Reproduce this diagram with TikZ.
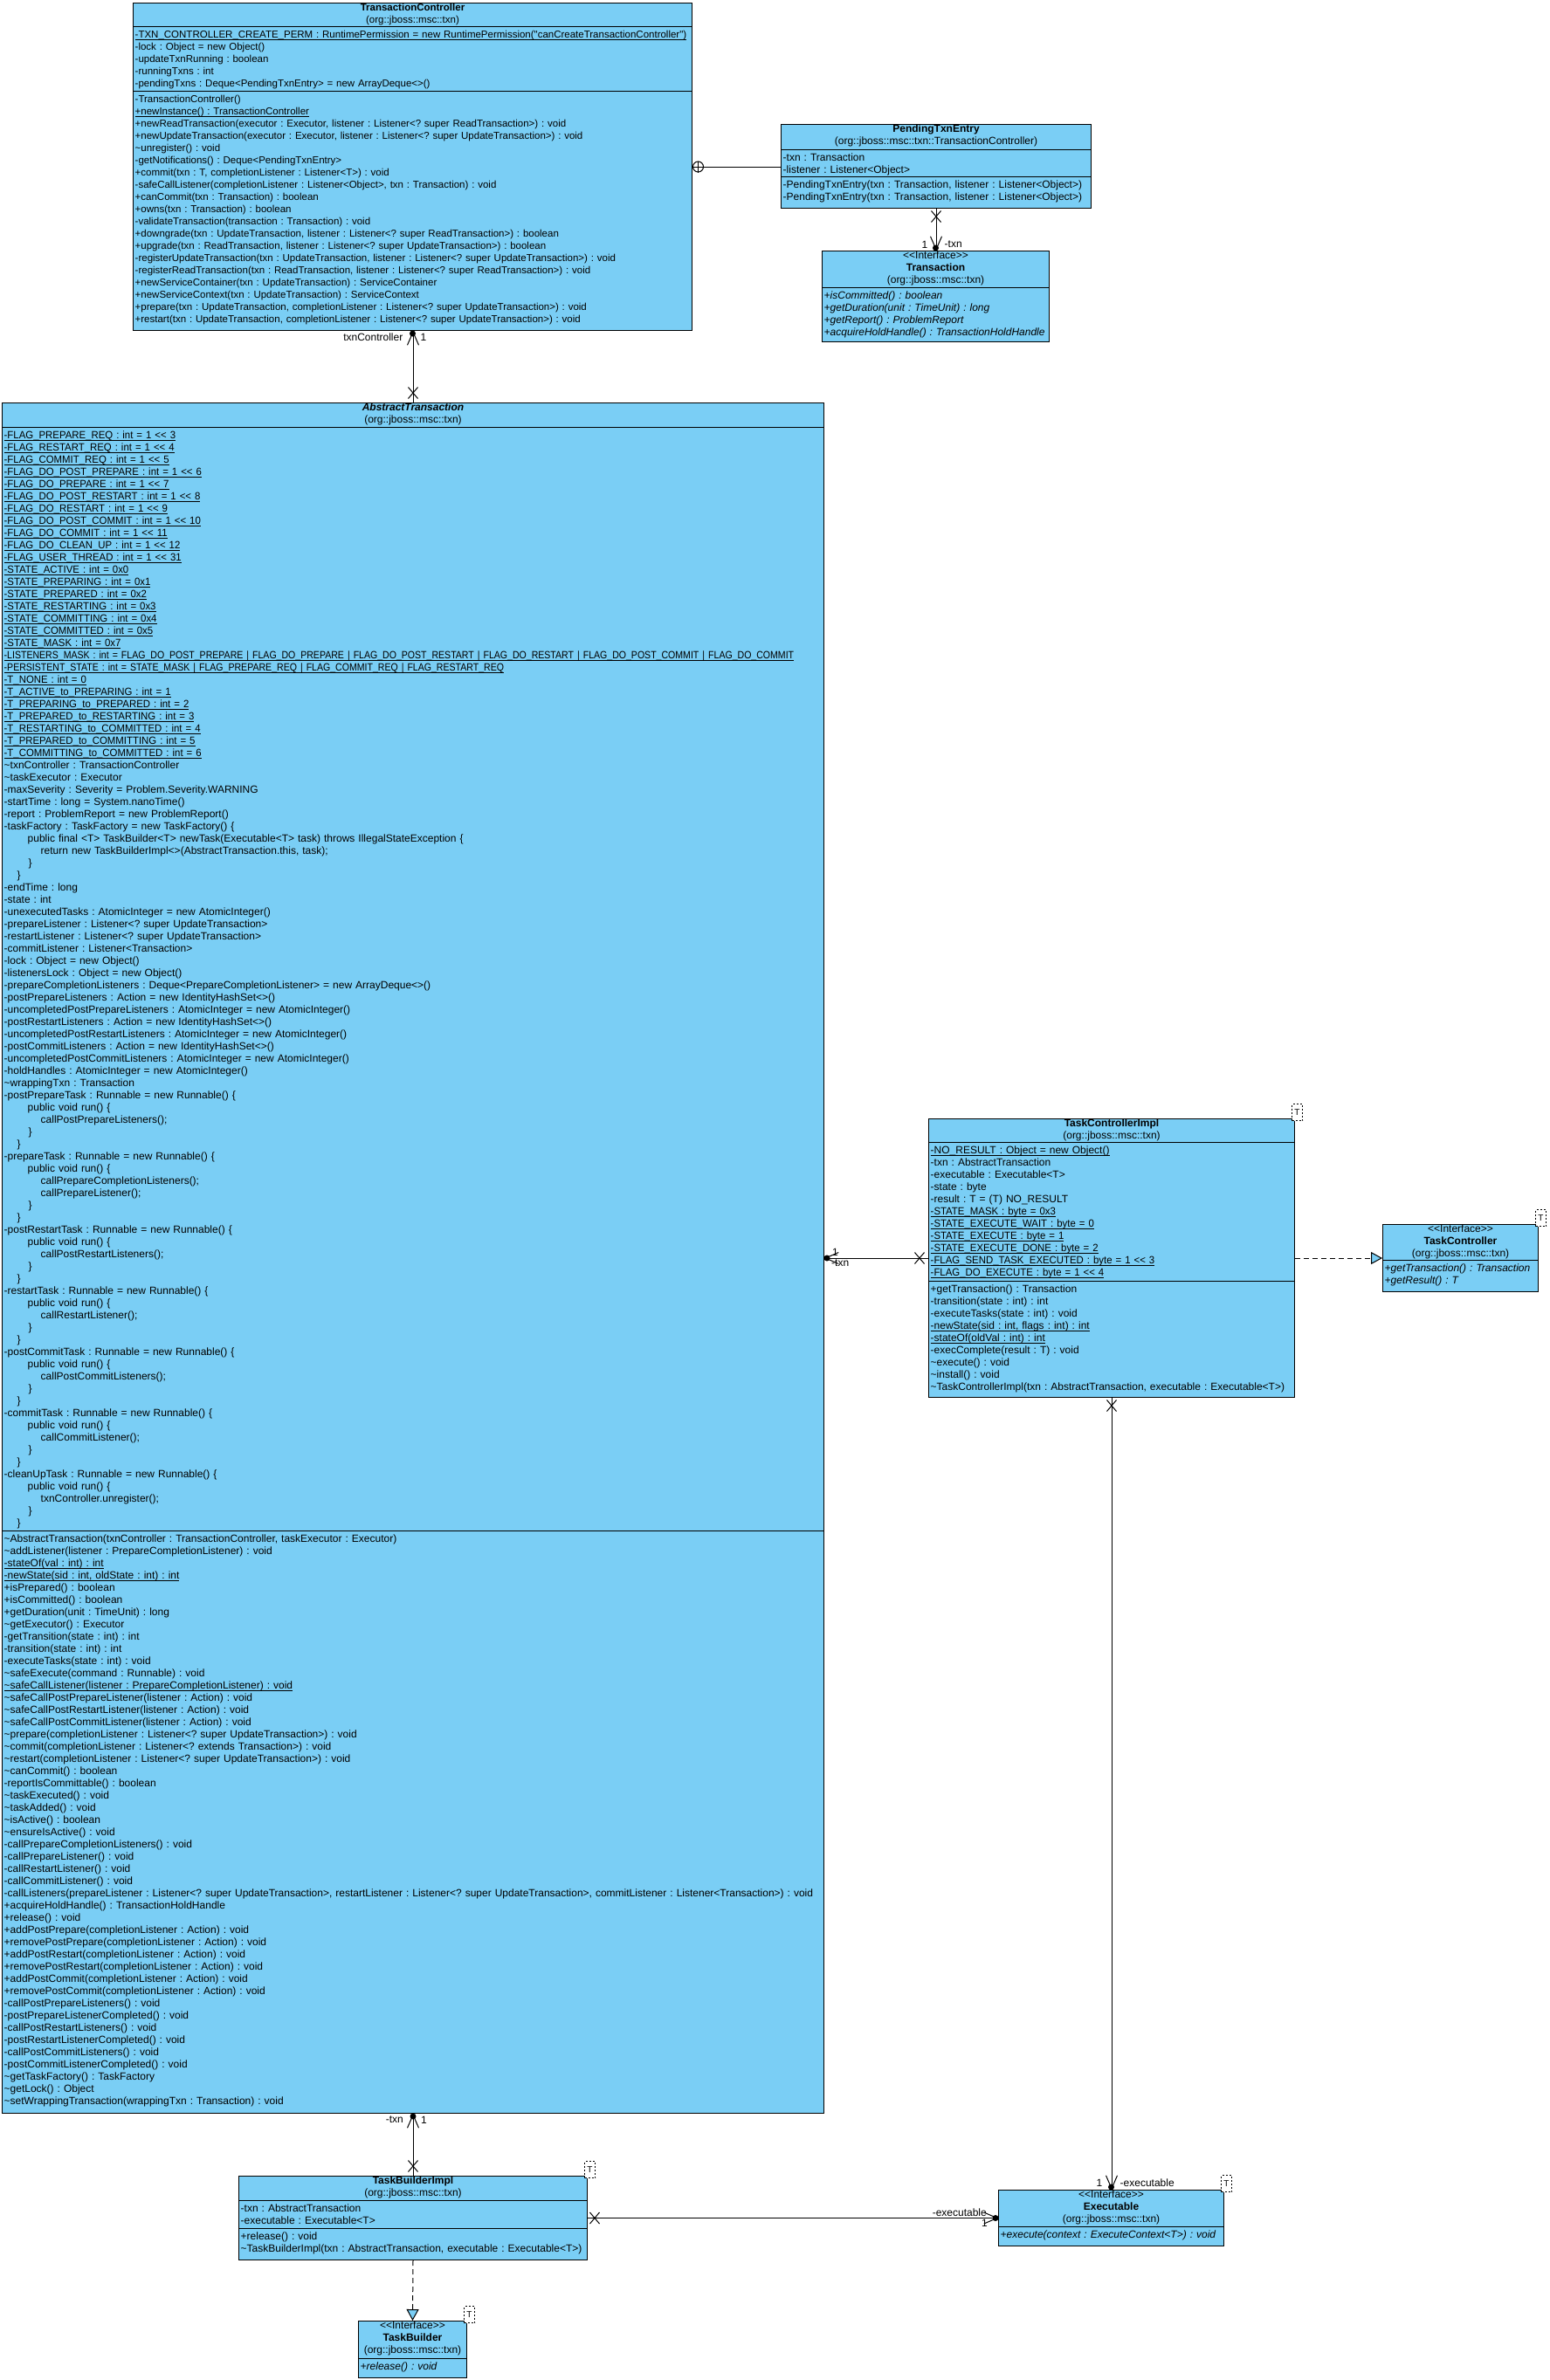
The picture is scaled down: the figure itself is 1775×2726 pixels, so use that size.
\documentclass[tikz,border=0pt]{standalone}
\usepackage{fontspec}
\setmainfont{Liberation Sans}[Ligatures=TeXOff]
\newfontfamily\nar{Liberation Sans}[FakeStretch=0.95,Ligatures=TeXOff]
\newfontfamily\narr{Liberation Sans}[FakeStretch=0.88,Ligatures=TeXOff]
\usetikzlibrary{arrows.meta,shapes.misc,calc}
\definecolor{umlblue}{RGB}{122,206,245}
\newsavebox\ulbox
\newcommand\uln[1]{\leavevmode\sbox\ulbox{#1}\rlap{\rule[-2.2pt]{\wd\ulbox}{0.8pt}}\usebox\ulbox}
\newcommand\capl[1]{\leavevmode{\nar\uln{#1}}}
\newcommand\caplw[1]{\leavevmode{\narr\uln{#1}}}
\newcommand\tld{\textasciitilde}
\newcommand\ind[1]{\leavevmode\hspace*{#1pt}}
\newcommand\fA{\fontsize{12}{14}\selectfont}
\newcommand\fB{\fontsize{11.5}{14}\selectfont}
\tikzset{
  clsbox/.style={draw, fill=umlblue, line width=1pt, inner sep=0pt, rectangle, anchor=north west},
  sepline/.style={line width=1pt},
  headtxt/.style={anchor=north, align=center, inner xsep=0pt, inner ysep=0.9pt, font=\fA, execute at begin node=\strut},
  comptxt/.style={anchor=north west, text width=1300pt, align=left, inner xsep=2.5pt, inner ysep=3.2pt, font=\fA, execute at begin node={\noindent\strut}},
  assoc/.style={line width=1pt, -{Straight Barb[length=15pt,width=13pt,line width=1pt]}},
  xmark/.style={draw, cross out, line width=1pt, minimum width=10pt, minimum height=12pt, inner sep=0pt},
  ownerdot/.style={circle, fill=black, inner sep=0pt, minimum size=7pt},
  realize/.style={line width=1pt, dash pattern=on 6pt off 4pt, -{Triangle[length=13pt,width=14pt,fill=umlblue,line width=1pt]}},
  tparam/.style={draw, dash pattern=on 2pt off 2pt, fill=white, minimum width=12pt, minimum height=19pt, inner sep=0pt, line width=0.8pt, font=\fontsize{10}{12}\selectfont},
  nestc/.style={draw, circle, fill=white, line width=1pt, minimum size=12pt, inner sep=0pt, anchor=west},
  lbl/.style={inner sep=0pt, font=\fA},
}
\begin{document}
\frenchspacing
\begin{tikzpicture}[x=1pt,y=-1pt]
\fill[white] (0,0) rectangle (1775,2726);
\useasboundingbox (0,0) rectangle (1775,2726);

% ---------------- TransactionController
\node[clsbox, minimum width=640pt, minimum height=375pt] (tc) at (152,3) {};
\draw[sepline] ([yshift=-27pt]tc.north west) -- ([yshift=-27pt]tc.north east);
\draw[sepline] ([yshift=-101pt]tc.north west) -- ([yshift=-101pt]tc.north east);
\node[headtxt, font=\fB] (tc-h) at (tc.north) {{\bfseries TransactionController}\\(org::jboss::msc::txn)};
\node[comptxt, font=\fB] (tc-a) at ([yshift=-27pt]tc.north west) {\uln{-TXN\_CONTROLLER\_CREATE\_PERM : RuntimePermission = new RuntimePermission("canCreateTransactionController")}\\
-lock : Object = new Object()\\
-updateTxnRunning : boolean\\
-runningTxns : int\\
-pendingTxns : Deque<PendingTxnEntry> = new ArrayDeque<>()};
\node[comptxt, font=\fB] (tc-m) at ([yshift=-101pt]tc.north west) {-TransactionController()\\
\uln{+newInstance() : TransactionController}\\
+newReadTransaction(executor : Executor, listener : Listener<? super ReadTransaction>) : void\\
+newUpdateTransaction(executor : Executor, listener : Listener<? super UpdateTransaction>) : void\\
\tld unregister() : void\\
-getNotifications() : Deque<PendingTxnEntry>\\
+commit(txn : T, completionListener : Listener<T>) : void\\
-safeCallListener(completionListener : Listener<Object>, txn : Transaction) : void\\
+canCommit(txn : Transaction) : boolean\\
+owns(txn : Transaction) : boolean\\
-validateTransaction(transaction : Transaction) : void\\
+downgrade(txn : UpdateTransaction, listener : Listener<? super ReadTransaction>) : boolean\\
+upgrade(txn : ReadTransaction, listener : Listener<? super UpdateTransaction>) : boolean\\
-registerUpdateTransaction(txn : UpdateTransaction, listener : Listener<? super UpdateTransaction>) : void\\
-registerReadTransaction(txn : ReadTransaction, listener : Listener<? super ReadTransaction>) : void\\
+newServiceContainer(txn : UpdateTransaction) : ServiceContainer\\
+newServiceContext(txn : UpdateTransaction) : ServiceContext\\
+prepare(txn : UpdateTransaction, completionListener : Listener<? super UpdateTransaction>) : void\\
+restart(txn : UpdateTransaction, completionListener : Listener<? super UpdateTransaction>) : void};

% ---------------- PendingTxnEntry
\node[clsbox, minimum width=355pt, minimum height=96pt] (pte) at (894,142) {};
\draw[sepline] ([yshift=-29pt]pte.north west) -- ([yshift=-29pt]pte.north east);
\draw[sepline] ([yshift=-60pt]pte.north west) -- ([yshift=-60pt]pte.north east);
\node[headtxt] (pte-h) at (pte.north) {{\bfseries PendingTxnEntry}\\(org::jboss::msc::txn::TransactionController)};
\node[comptxt] (pte-a) at ([yshift=-29pt]pte.north west) {-txn : Transaction\\-listener : Listener<Object>};
\node[comptxt] (pte-m) at ([yshift=-60pt]pte.north west) {-PendingTxnEntry(txn : Transaction, listener : Listener<Object>)\\-PendingTxnEntry(txn : Transaction, listener : Listener<Object>)};

% ---------------- Transaction
\node[clsbox, minimum width=260pt, minimum height=104pt] (tr) at (941,287) {};
\draw[sepline] ([yshift=-42pt]tr.north west) -- ([yshift=-42pt]tr.north east);
\node[headtxt] (tr-h) at (tr.north) {<<Interface>>\\{\bfseries Transaction}\\(org::jboss::msc::txn)};
\node[comptxt, font=\fA\itshape] (tr-m) at ([yshift=-42pt]tr.north west) {+isCommitted() : boolean\\
+getDuration(unit : TimeUnit) : long\\
+getReport() : ProblemReport\\
+acquireHoldHandle() : TransactionHoldHandle};

% ---------------- AbstractTransaction
\node[clsbox, minimum width=941pt, minimum height=1959pt] (abst) at (2,461) {};
\draw[sepline] ([yshift=-28pt]abst.north west) -- ([yshift=-28pt]abst.north east);
\draw[sepline] ([yshift=-1292pt]abst.north west) -- ([yshift=-1292pt]abst.north east);
\node[headtxt] (abst-h) at (abst.north) {{\bfseries\itshape AbstractTransaction}\\(org::jboss::msc::txn)};
\node[comptxt] (abst-a) at ([yshift=-28pt]abst.north west) {\capl{-FLAG\_PREPARE\_REQ : int = 1 << 3}\\
\capl{-FLAG\_RESTART\_REQ : int = 1 << 4}\\
\capl{-FLAG\_COMMIT\_REQ : int = 1 << 5}\\
\capl{-FLAG\_DO\_POST\_PREPARE : int = 1 << 6}\\
\capl{-FLAG\_DO\_PREPARE : int = 1 << 7}\\
\capl{-FLAG\_DO\_POST\_RESTART : int = 1 << 8}\\
\capl{-FLAG\_DO\_RESTART : int = 1 << 9}\\
\capl{-FLAG\_DO\_POST\_COMMIT : int = 1 << 10}\\
\capl{-FLAG\_DO\_COMMIT : int = 1 << 11}\\
\capl{-FLAG\_DO\_CLEAN\_UP : int = 1 << 12}\\
\capl{-FLAG\_USER\_THREAD : int = 1 << 31}\\
\capl{-STATE\_ACTIVE : int = 0x0}\\
\capl{-STATE\_PREPARING : int = 0x1}\\
\capl{-STATE\_PREPARED : int = 0x2}\\
\capl{-STATE\_RESTARTING : int = 0x3}\\
\capl{-STATE\_COMMITTING : int = 0x4}\\
\capl{-STATE\_COMMITTED : int = 0x5}\\
\capl{-STATE\_MASK : int = 0x7}\\
\caplw{-LISTENERS\_MASK : int = FLAG\_DO\_POST\_PREPARE | FLAG\_DO\_PREPARE | FLAG\_DO\_POST\_RESTART | FLAG\_DO\_RESTART | FLAG\_DO\_POST\_COMMIT | FLAG\_DO\_COMMIT}\\
\caplw{-PERSISTENT\_STATE : int = STATE\_MASK | FLAG\_PREPARE\_REQ | FLAG\_COMMIT\_REQ | FLAG\_RESTART\_REQ}\\
\capl{-T\_NONE : int = 0}\\
\capl{-T\_ACTIVE\_to\_PREPARING : int = 1}\\
\capl{-T\_PREPARING\_to\_PREPARED : int = 2}\\
\capl{-T\_PREPARED\_to\_RESTARTING : int = 3}\\
\capl{-T\_RESTARTING\_to\_COMMITTED : int = 4}\\
\capl{-T\_PREPARED\_to\_COMMITTING : int = 5}\\
\capl{-T\_COMMITTING\_to\_COMMITTED : int = 6}\\
\tld txnController : TransactionController\\
\tld taskExecutor : Executor\\
-maxSeverity : Severity = Problem.Severity.WARNING\\
-startTime : long = System.nanoTime()\\
-report : ProblemReport = new ProblemReport()\\
-taskFactory : TaskFactory = new TaskFactory() \{\\
\ind{27}public final <T> TaskBuilder<T> newTask(Executable<T> task) throws IllegalStateException \{\\
\ind{42}return new TaskBuilderImpl<>(AbstractTransaction.this, task);\\
\ind{28}\}\\
\ind{15}\}\\
-endTime : long\\
-state : int\\
-unexecutedTasks : AtomicInteger = new AtomicInteger()\\
-prepareListener : Listener<? super UpdateTransaction>\\
-restartListener : Listener<? super UpdateTransaction>\\
-commitListener : Listener<Transaction>\\
-lock : Object = new Object()\\
-listenersLock : Object = new Object()\\
-prepareCompletionListeners : Deque<PrepareCompletionListener> = new ArrayDeque<>()\\
-postPrepareListeners : Action = new IdentityHashSet<>()\\
-uncompletedPostPrepareListeners : AtomicInteger = new AtomicInteger()\\
-postRestartListeners : Action = new IdentityHashSet<>()\\
-uncompletedPostRestartListeners : AtomicInteger = new AtomicInteger()\\
-postCommitListeners : Action = new IdentityHashSet<>()\\
-uncompletedPostCommitListeners : AtomicInteger = new AtomicInteger()\\
-holdHandles : AtomicInteger = new AtomicInteger()\\
\tld wrappingTxn : Transaction\\
-postPrepareTask : Runnable = new Runnable() \{\\
\ind{27}public void run() \{\\
\ind{42}callPostPrepareListeners();\\
\ind{28}\}\\
\ind{15}\}\\
-prepareTask : Runnable = new Runnable() \{\\
\ind{27}public void run() \{\\
\ind{42}callPrepareCompletionListeners();\\
\ind{42}callPrepareListener();\\
\ind{28}\}\\
\ind{15}\}\\
-postRestartTask : Runnable = new Runnable() \{\\
\ind{27}public void run() \{\\
\ind{42}callPostRestartListeners();\\
\ind{28}\}\\
\ind{15}\}\\
-restartTask : Runnable = new Runnable() \{\\
\ind{27}public void run() \{\\
\ind{42}callRestartListener();\\
\ind{28}\}\\
\ind{15}\}\\
-postCommitTask : Runnable = new Runnable() \{\\
\ind{27}public void run() \{\\
\ind{42}callPostCommitListeners();\\
\ind{28}\}\\
\ind{15}\}\\
-commitTask : Runnable = new Runnable() \{\\
\ind{27}public void run() \{\\
\ind{42}callCommitListener();\\
\ind{28}\}\\
\ind{15}\}\\
-cleanUpTask : Runnable = new Runnable() \{\\
\ind{27}public void run() \{\\
\ind{42}txnController.unregister();\\
\ind{28}\}\\
\ind{15}\}};
\node[comptxt] (abst-m) at ([yshift=-1292pt]abst.north west) {\tld AbstractTransaction(txnController : TransactionController, taskExecutor : Executor)\\
\tld addListener(listener : PrepareCompletionListener) : void\\
\uln{-stateOf(val : int) : int}\\
\uln{-newState(sid : int, oldState : int) : int}\\
+isPrepared() : boolean\\
+isCommitted() : boolean\\
+getDuration(unit : TimeUnit) : long\\
\tld getExecutor() : Executor\\
-getTransition(state : int) : int\\
-transition(state : int) : int\\
-executeTasks(state : int) : void\\
\tld safeExecute(command : Runnable) : void\\
\uln{\tld safeCallListener(listener : PrepareCompletionListener) : void}\\
\tld safeCallPostPrepareListener(listener : Action) : void\\
\tld safeCallPostRestartListener(listener : Action) : void\\
\tld safeCallPostCommitListener(listener : Action) : void\\
\tld prepare(completionListener : Listener<? super UpdateTransaction>) : void\\
\tld commit(completionListener : Listener<? extends Transaction>) : void\\
\tld restart(completionListener : Listener<? super UpdateTransaction>) : void\\
\tld canCommit() : boolean\\
-reportIsCommittable() : boolean\\
\tld taskExecuted() : void\\
\tld taskAdded() : void\\
\tld isActive() : boolean\\
\tld ensureIsActive() : void\\
-callPrepareCompletionListeners() : void\\
-callPrepareListener() : void\\
-callRestartListener() : void\\
-callCommitListener() : void\\
-callListeners(prepareListener : Listener<? super UpdateTransaction>, restartListener : Listener<? super UpdateTransaction>, commitListener : Listener<Transaction>) : void\\
+acquireHoldHandle() : TransactionHoldHandle\\
+release() : void\\
+addPostPrepare(completionListener : Action) : void\\
+removePostPrepare(completionListener : Action) : void\\
+addPostRestart(completionListener : Action) : void\\
+removePostRestart(completionListener : Action) : void\\
+addPostCommit(completionListener : Action) : void\\
+removePostCommit(completionListener : Action) : void\\
-callPostPrepareListeners() : void\\
-postPrepareListenerCompleted() : void\\
-callPostRestartListeners() : void\\
-postRestartListenerCompleted() : void\\
-callPostCommitListeners() : void\\
-postCommitListenerCompleted() : void\\
\tld getTaskFactory() : TaskFactory\\
\tld getLock() : Object\\
\tld setWrappingTransaction(wrappingTxn : Transaction) : void};

% ---------------- TaskControllerImpl
\node[clsbox, minimum width=419pt, minimum height=319pt] (tci) at (1063,1281) {};
\draw[sepline] ([yshift=-27pt]tci.north west) -- ([yshift=-27pt]tci.north east);
\draw[sepline] ([yshift=-186pt]tci.north west) -- ([yshift=-186pt]tci.north east);
\node[headtxt] (tci-h) at (tci.north) {{\bfseries TaskControllerImpl}\\(org::jboss::msc::txn)};
\node[comptxt] (tci-a) at ([yshift=-27pt]tci.north west) {\uln{-NO\_RESULT : Object = new Object()}\\
-txn : AbstractTransaction\\
-executable : Executable<T>\\
-state : byte\\
-result : T = (T) NO\_RESULT\\
\capl{-STATE\_MASK : byte = 0x3}\\
\capl{-STATE\_EXECUTE\_WAIT : byte = 0}\\
\capl{-STATE\_EXECUTE : byte = 1}\\
\capl{-STATE\_EXECUTE\_DONE : byte = 2}\\
\capl{-FLAG\_SEND\_TASK\_EXECUTED : byte = 1 << 3}\\
\capl{-FLAG\_DO\_EXECUTE : byte = 1 << 4}};
\node[comptxt] (tci-m) at ([yshift=-186pt]tci.north west) {+getTransaction() : Transaction\\
-transition(state : int) : int\\
-executeTasks(state : int) : void\\
\uln{-newState(sid : int, flags : int) : int}\\
\uln{-stateOf(oldVal : int) : int}\\
-execComplete(result : T) : void\\
\tld execute() : void\\
\tld install() : void\\
\tld TaskControllerImpl(txn : AbstractTransaction, executable : Executable<T>)};

% ---------------- TaskController
\node[clsbox, minimum width=178pt, minimum height=77pt] (tctl) at (1583,1402) {};
\draw[sepline] ([yshift=-41pt]tctl.north west) -- ([yshift=-41pt]tctl.north east);
\node[headtxt] (tctl-h) at (tctl.north) {<<Interface>>\\{\bfseries TaskController}\\(org::jboss::msc::txn)};
\node[comptxt, font=\fA\itshape] (tctl-m) at ([yshift=-41pt]tctl.north west) {+getTransaction() : Transaction\\+getResult() : T};

% ---------------- TaskBuilderImpl
\node[clsbox, minimum width=399pt, minimum height=96pt] (tbi) at (273,2492) {};
\draw[sepline] ([yshift=-28pt]tbi.north west) -- ([yshift=-28pt]tbi.north east);
\draw[sepline] ([yshift=-60pt]tbi.north west) -- ([yshift=-60pt]tbi.north east);
\node[headtxt] (tbi-h) at (tbi.north) {{\bfseries TaskBuilderImpl}\\(org::jboss::msc::txn)};
\node[comptxt] (tbi-a) at ([yshift=-28pt]tbi.north west) {-txn : AbstractTransaction\\-executable : Executable<T>};
\node[comptxt] (tbi-m) at ([yshift=-60pt]tbi.north west) {+release() : void\\\tld TaskBuilderImpl(txn : AbstractTransaction, executable : Executable<T>)};

% ---------------- Executable
\node[clsbox, minimum width=258pt, minimum height=64pt] (ex) at (1143,2508) {};
\draw[sepline] ([yshift=-42pt]ex.north west) -- ([yshift=-42pt]ex.north east);
\node[headtxt] (ex-h) at (ex.north) {<<Interface>>\\{\bfseries Executable}\\(org::jboss::msc::txn)};
\node[comptxt, font=\fA\itshape] (ex-m) at ([yshift=-42pt]ex.north west) {+execute(context : ExecuteContext<T>) : void};

% ---------------- TaskBuilder
\node[clsbox, minimum width=124pt, minimum height=65pt] (tb) at (410,2658) {};
\draw[sepline] ([yshift=-43pt]tb.north west) -- ([yshift=-43pt]tb.north east);
\node[headtxt] (tb-h) at (tb.north) {<<Interface>>\\{\bfseries TaskBuilder}\\(org::jboss::msc::txn)};
\node[comptxt, font=\fA\itshape] (tb-m) at ([yshift=-43pt]tb.north west) {+release() : void};

% ---------------- template parameter boxes
\node[tparam] (tp-tci) at ([xshift=2.5pt,yshift=7pt]tci.north east) {T};
\node[tparam] (tp-tctl) at ([xshift=2.5pt,yshift=7pt]tctl.north east) {T};
\node[tparam] (tp-tbi) at ([xshift=2.5pt,yshift=7pt]tbi.north east) {T};
\node[tparam] (tp-ex) at ([xshift=2.5pt,yshift=7pt]ex.north east) {T};
\node[tparam] (tp-tb) at ([xshift=2.5pt,yshift=7pt]tb.north east) {T};

% ---------------- connectors
\node[nestc] (nest) at (tc.east) {};
\draw[line width=1pt] (nest.north) -- (nest.south) (nest.west) -- (nest.east);
\draw[line width=1pt] (nest.east) -- (nest.east -| pte.west);

\draw[assoc] (abst.north) -- (abst.north |- tc.south);
\node[ownerdot] (d1) at ([yshift=-3pt]tc.south) {};
\node[xmark] (x1) at ([yshift=11pt]abst.north) {};
\node[lbl, anchor=east] (l1a) at ([xshift=-11pt,yshift=-7pt]tc.south) {txnController};
\node[lbl, anchor=west] (l1b) at ([xshift=9pt,yshift=-7pt]tc.south) {1};

\draw[assoc] (pte.south) -- (pte.south |- tr.north);
\node[ownerdot] (d2) at ([yshift=3pt]tr.north) {};
\node[xmark] (x2) at ([yshift=-9pt]pte.south) {};
\node[lbl, anchor=east] (l2a) at ([xshift=-9pt,yshift=7pt]tr.north) {1};
\node[lbl, anchor=west] (l2b) at ([xshift=10pt,yshift=7pt]tr.north) {-txn};

\coordinate (tcia) at (tci.west -| abst.east);
\draw[assoc] (tci.west) -- (tcia);
\node[ownerdot] (d3) at ([xshift=3pt]tcia) {};
\node[xmark] (x3) at ([xshift=-10pt]tci.west) {};
\node[lbl, anchor=south west] (l3a) at ([xshift=9pt,yshift=2pt]tcia) {1};
\node[lbl, anchor=north west] (l3b) at ([xshift=8pt,yshift=-2pt]tcia) {-txn};

\draw[assoc] (tci.south) -- (tci.south |- ex.north);
\node[ownerdot] (d4) at ([yshift=3pt]ex.north) {};
\node[xmark] (x4) at ([yshift=-9pt]tci.south) {};
\node[lbl, anchor=east] (l4a) at ([xshift=-10pt,yshift=8pt]ex.north) {1};
\node[lbl, anchor=west] (l4b) at ([xshift=10pt,yshift=8pt]ex.north) {-executable};

\draw[assoc] (tbi.north) -- (tbi.north |- abst.south);
\node[ownerdot] (d5) at ([yshift=-3pt]abst.south) {};
\node[xmark] (x5) at ([yshift=11pt]tbi.north) {};
\node[lbl, anchor=east] (l5a) at ([xshift=-11pt,yshift=-7pt]abst.south) {-txn};
\node[lbl, anchor=west] (l5b) at ([xshift=9pt,yshift=-7pt]abst.south) {1};

\draw[assoc] (tbi.east) -- (ex.west);
\node[ownerdot] (d6) at ([xshift=-3pt]ex.west) {};
\node[xmark] (x6) at ([xshift=8pt]tbi.east) {};
\node[lbl, anchor=south east] (l6a) at ([xshift=-13pt,yshift=2pt]ex.west) {-executable};
\node[lbl, anchor=north east] (l6b) at ([xshift=-12pt,yshift=-2pt]ex.west) {1};

\draw[realize] (tci.east) -- (tctl.west);
\draw[realize] (tbi.south) -- (tb.north);
\end{tikzpicture}
\end{document}
